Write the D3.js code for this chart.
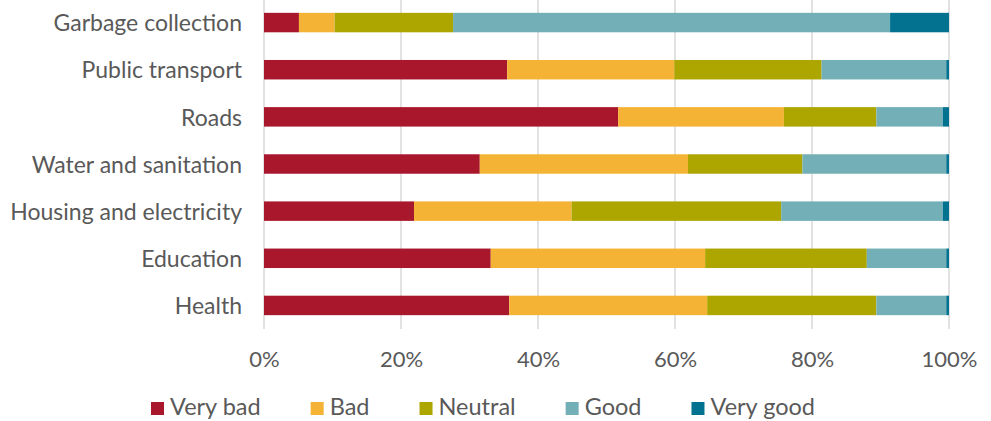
<!DOCTYPE html>
<html>
<head>
<meta charset="utf-8">
<script src="https://cdn.jsdelivr.net/npm/d3@7"></script>
<style>
  html, body { margin: 0; padding: 0; background: #fff; }
  svg text { font-family: Lato, "Open Sans", sans-serif; fill: #595959; }
</style>
</head>
<body>
<svg id="chart" width="991" height="421"></svg>
<script>
'use strict';

const categories = ['Garbage collection', 'Public transport', 'Roads', 'Water and sanitation',
  'Housing and electricity', 'Education', 'Health'];

const keys = ['Very bad', 'Bad', 'Neutral', 'Good', 'Very good'];

const veryBad  = [5.1, 35.5, 51.7, 31.5, 21.9, 33.1, 35.8];
const bad      = [5.2, 24.4, 24.2, 30.4, 23.0, 31.3, 28.9];
const neutral  = [17.3, 21.5, 13.5, 16.7, 30.6, 23.6, 24.7];
const good     = [63.8, 18.2, 9.7, 21.0, 23.6, 11.6, 10.2];
const veryGood = [8.6, 0.4, 0.9, 0.4, 0.9, 0.4, 0.4];

const ticks = [0, 20, 40, 60, 80, 100];

const colors = ['#a9172d', '#f5b335', '#ada500', '#73afb6', '#037290'];

const svg = d3.select('#chart');

const margin = { left: 264, right: 42, top: -1, bottom: 92 };
const width = Number(svg.attr('width'));
const height = Number(svg.attr('height'));

const rows = categories.map((c, i) => ({
  category: c,
  'Very bad': veryBad[i],
  'Bad': bad[i],
  'Neutral': neutral[i],
  'Good': good[i],
  'Very good': veryGood[i]
}));

const series = d3.stack().keys(keys).offset(d3.stackOffsetExpand)(rows);

const x = d3.scaleLinear()
  .domain([0, 1])
  .range([margin.left, width - margin.right]);

const y = d3.scaleBand()
  .domain(categories)
  .range([margin.top, height - margin.bottom])
  .paddingInner(0.587)
  .paddingOuter(0.2935);

const color = d3.scaleOrdinal().domain(keys).range(colors);

// gridlines
svg.append('g')
  .selectAll('line')
  .data(ticks)
  .enter().append('line')
  .attr('x1', d => x(d / 100))
  .attr('x2', d => x(d / 100))
  .attr('y1', 0)
  .attr('y2', height - margin.bottom)
  .attr('stroke', '#d9d9d9')
  .attr('stroke-width', 1.5);

// bars
svg.append('g')
  .selectAll('g')
  .data(series)
  .enter().append('g')
  .attr('fill', d => color(d.key))
  .selectAll('rect')
  .data(d => d)
  .enter().append('rect')
  .attr('x', d => x(d[0]))
  .attr('y', d => y(d.data.category))
  .attr('width', d => x(d[1]) - x(d[0]))
  .attr('height', y.bandwidth());

// category axis
const yAxis = svg.append('g')
  .attr('transform', 'translate(' + (margin.left - 22) + ',0)')
  .call(d3.axisLeft(y).tickSize(0).tickPadding(0));
yAxis.select('.domain').remove();
yAxis.selectAll('text')
  .attr('font-size', 23)
  .attr('dy', '0.38em');

// value axis
const xAxis = svg.append('g')
  .attr('transform', 'translate(0,' + 367 + ')')
  .call(d3.axisBottom(x).tickValues(ticks.map(t => t / 100)).tickSize(0).tickPadding(0)
    .tickFormat(d => Math.round(d * 100) + '%'));
xAxis.select('.domain').remove();
xAxis.selectAll('text')
  .attr('font-size', 22)
  .attr('dy', 0);

// legend
const legend = svg.append('g')
  .attr('class', 'legend')
  .attr('transform', 'translate(151,402)');

let offset = 0;
keys.forEach(k => {
  const item = legend.append('g').attr('transform', 'translate(' + offset + ',0)');
  item.append('rect')
    .attr('width', 13)
    .attr('height', 13)
    .attr('fill', color(k));
  const t = item.append('text')
    .attr('x', 19)
    .attr('y', 13)
    .attr('font-size', 23.5)
    .text(k);
  offset += 19 + t.node().getComputedTextLength() + 50;
});
</script>
</body>
</html>
